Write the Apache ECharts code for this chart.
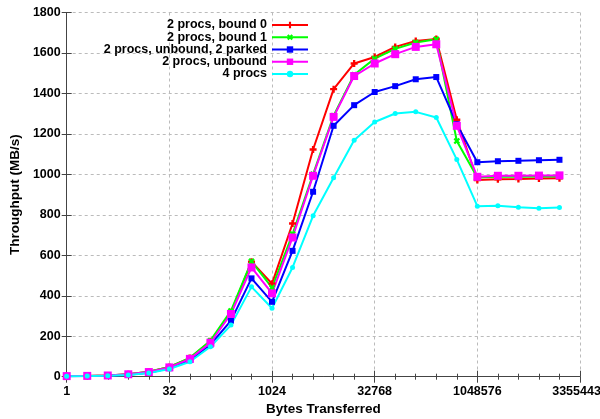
<!DOCTYPE html>
<html>
<head>
<meta charset="utf-8">
<script src="https://cdn.jsdelivr.net/npm/echarts@6/dist/echarts.min.js"></script>
<style>html,body{margin:0;padding:0;background:#fff;}#c{width:600px;height:419px;}</style>
</head>
<body>
<div id="c"></div>
<script>
// Bytes transferred (powers of two)
var bytes = [1,2,4,8,16,32,64,128,256,512,1024,2048,4096,8192,16384,32768,65536,131072,262144,524288,1048576,2097152,4194304,8388608,16777216];
var seriesNames = ['2 procs, bound 0','2 procs, bound 1','2 procs, unbound, 2 parked','2 procs, unbound','4 procs'];
var bound0   = [3,4,6,12,24,48,92,175,318,568,460,757,1123,1421,1548,1580,1630,1659,1669,1270,972,976,977,979,981];
var bound1   = [3,4,6,12,24,48,93,178,325,570,440,705,1000,1290,1492,1572,1620,1652,1668,1165,985,988,988,990,990];
var parked   = [2,3,5,10,20,42,82,158,277,486,370,622,914,1240,1342,1407,1436,1470,1481,1248,1060,1065,1067,1070,1072];
var unbound  = [3,4,6,12,23,46,88,168,310,540,412,688,993,1284,1486,1548,1594,1630,1643,1240,988,993,993,994,995];
var procs4   = [2,3,5,9,18,38,74,148,255,444,338,540,795,983,1169,1259,1301,1309,1281,1073,843,845,838,833,836];
var yTicks = [0,200,400,600,800,1000,1200,1400,1600,1800];

function pts(vals){ return bytes.map(function(b,i){ return [Math.log2(b), vals[i]]; }); }
var plusPath = 'path://M2,0h2v2h2v2h-2v2h-2v-2h-2v-2h2z';
var F = '"Liberation Sans", Arial, sans-serif';
var chart = echarts.init(document.getElementById('c'), null, {renderer:'canvas'});
function mk(name, vals, color, symbol, size, rot){
  return {name:name, type:'line', data:pts(vals), showAllSymbol:true, symbol:symbol, symbolSize:size, symbolRotate:rot||0,
    lineStyle:{color:color, width:2}, itemStyle:{color:color}, emphasis:{disabled:true}, animation:false};
}
var axisLine = {show:true, lineStyle:{color:'#444', width:1}};
chart.setOption({
  animation:false,
  backgroundColor:'#fff',
  grid:{left:66.7, right:20, top:12.5, bottom:42.3, containLabel:false, outerBoundsMode:'none'},
  legend:{
    orient:'vertical', right:291, top:18.5, padding:0, align:'right', itemWidth:36, itemHeight:8, itemGap:-0.75,
    textStyle:{fontFamily:F, fontWeight:'bold', fontSize:12.5, color:'#000', lineHeight:11},
    data:seriesNames
  },
  xAxis:[{
    type:'value', min:0, max:25, interval:5,
    name:'Bytes Transferred', nameLocation:'middle', nameGap:25,
    nameTextStyle:{fontFamily:F, fontWeight:'bold', fontSize:13.5, color:'#000'},
    axisLine:axisLine,
    axisTick:{show:true, inside:true, length:6, lineStyle:{color:'#444'}},
    minorTick:{show:true, splitNumber:5, length:3, lineStyle:{color:'#444'}},
    axisLabel:{margin:8, alignMaxLabel:'center', fontFamily:F, fontWeight:'bold', fontSize:12.5, color:'#000', formatter:function(v){return String(bytes[0]*Math.pow(2,v));}},
    splitLine:{show:true, lineStyle:{color:'#bbb', type:[3,3], width:1}}
  },{
    type:'value', position:'top', min:0, max:25, interval:5,
    axisLine:axisLine,
    axisTick:{show:true, inside:true, length:6, lineStyle:{color:'#444'}},
    minorTick:{show:true, splitNumber:5, length:3, lineStyle:{color:'#444'}},
    axisLabel:{show:false}, splitLine:{show:false}
  }],
  yAxis:[{
    type:'value', min:yTicks[0], max:yTicks[yTicks.length-1], interval:200,
    name:'Throughput (MB/s)', nameLocation:'middle', nameGap:34,
    nameTextStyle:{fontFamily:F, fontWeight:'bold', fontSize:13.5, color:'#000'},
    axisLine:axisLine,
    axisTick:{show:true, inside:true, length:5, lineStyle:{color:'#444'}},
    axisLabel:{margin:6, fontFamily:F, fontWeight:'bold', fontSize:12.5, color:'#000', formatter:function(v){return String(v);}},
    splitLine:{show:true, lineStyle:{color:'#bbb', type:[3,3], width:1}}
  },{
    type:'value', position:'right', min:yTicks[0], max:yTicks[yTicks.length-1], interval:200,
    axisLine:axisLine,
    axisTick:{show:true, inside:true, length:5, lineStyle:{color:'#444'}},
    axisLabel:{show:false}, splitLine:{show:false}
  }],
  series:[
    mk(seriesNames[0], bound0, '#ff0000', plusPath, 7, 0),
    mk(seriesNames[1], bound1, '#00ff00', plusPath, 7, 45),
    mk(seriesNames[2], parked, '#0000ff', 'rect', 6, 0),
    mk(seriesNames[3], unbound, '#ff00ff', 'rect', 8, 0),
    mk(seriesNames[4], procs4, '#00ffff', 'circle', 5, 0)
  ]
});
</script>
</body>
</html>
